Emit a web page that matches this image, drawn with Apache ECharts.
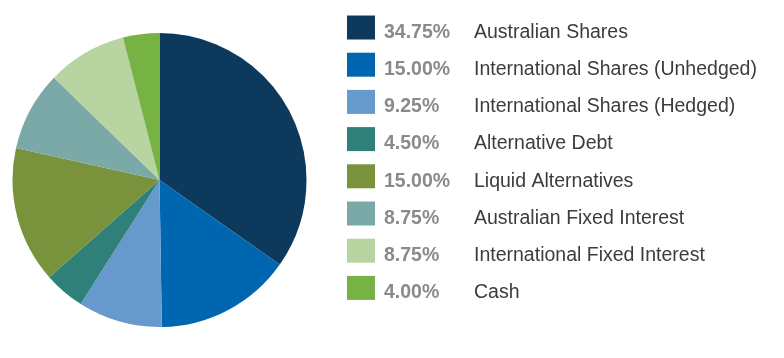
<!DOCTYPE html>
<html><head><meta charset="utf-8">
<script src="https://cdn.jsdelivr.net/npm/echarts@6/dist/echarts.min.js"></script>
<style>html,body{margin:0;padding:0;background:#fff}#c{width:784px;height:358px}</style>
</head><body><div id="c"></div>
<script>
var categories = ["Australian Shares","International Shares (Unhedged)","International Shares (Hedged)","Alternative Debt","Liquid Alternatives","Australian Fixed Interest","International Fixed Interest","Cash"];
var values = [34.75,15.00,9.25,4.50,15.00,8.75,8.75,4.00];
var colors = ["#0d3a5c","#0066b0","#6699cc","#2e8078","#78933c","#7aa9a8","#b8d4a0","#77b244"];

var chart = echarts.init(document.getElementById('c'), null, {renderer:'canvas'});
var data = categories.map(function(n,i){return {name:n, value:values[i], itemStyle:{color:colors[i]}};});
chart.setOption({
  animation:false,
  legend:{
    orient:'vertical', left:347, top:15.5, padding:0,
    itemWidth:28, itemHeight:24, itemGap:10.2,
    icon:'rect', selectedMode:false,
    formatter:function(name){var i=categories.indexOf(name);return '{s| }{p|'+values[i].toFixed(2)+'%}{n|'+name+'}';},
    textStyle:{
      rich:{
        s:{fontSize:1,lineHeight:30,width:4},
        p:{fontFamily:'Liberation Sans',fontSize:19.5,lineHeight:24,verticalAlign:'bottom',fontWeight:'bold',color:'#8a8a8a',width:90},
        n:{fontFamily:'Liberation Sans',fontSize:19.5,lineHeight:24,verticalAlign:'bottom',color:'#3c3c3c'}
      }
    }
  },
  series:[{
    type:'pie', center:[159.5,180], radius:147, startAngle:90, clockwise:true,
    label:{show:false}, labelLine:{show:false}, silent:true,
    itemStyle:{borderWidth:0},
    data:data
  }]
});
</script></body></html>
